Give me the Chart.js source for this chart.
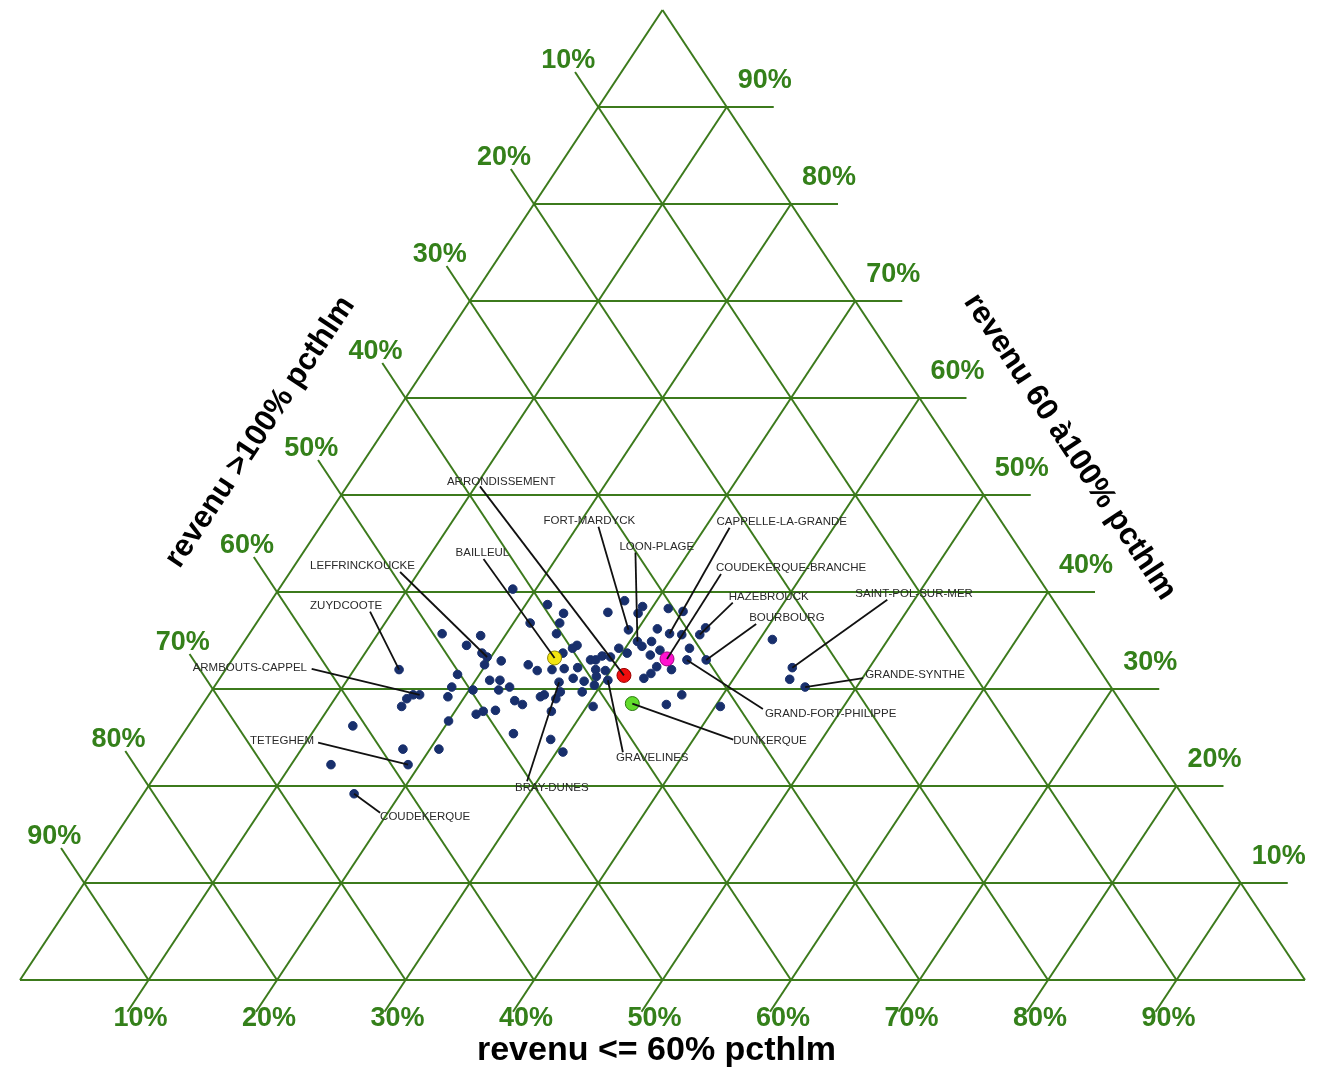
<!DOCTYPE html>
<html lang="fr">
<head>
<meta charset="utf-8">
<title>Revenus des ménages par commune – arrondissement de Dunkerque</title>
<script src="https://cdn.jsdelivr.net/npm/chart.js@4/dist/chart.umd.min.js"></script>
<style>
  html, body { margin: 0; padding: 0; background: #ffffff; }
  #wrap { width: 1320px; height: 1067px; }
  canvas { display: block; }
</style>
</head>
<body>
<div id="wrap"><canvas id="tern" width="1320" height="1067"></canvas></div>
<script>
// ---------------------------------------------------------------------------
// Data: shares (%) of households by income band, relative to the HLM ceiling
//   low  = revenu <= 60% pcthlm
//   mid  = revenu 60 à 100% pcthlm
//   high = revenu > 100% pcthlm
// ---------------------------------------------------------------------------

// Gridline / tick values (%)
const gridSteps = [10, 20, 30, 40, 50, 60, 70, 80, 90];

// Axis titles
const titleLow  = 'revenu <= 60% pcthlm';
const titleMid  = 'revenu 60 à100% pcthlm';
const titleHigh = 'revenu >100% pcthlm';

// Named communes (and the arrondissement as a whole)
const nomsCommunes = [
  'ARRONDISSEMENT', 'BAILLEUL', 'COUDEKERQUE-BRANCHE', 'DUNKERQUE',
  'FORT-MARDYCK', 'LOON-PLAGE', 'CAPPELLE-LA-GRANDE', 'HAZEBROUCK',
  'BOURBOURG', 'SAINT-POL-SUR-MER', 'GRANDE-SYNTHE', 'GRAND-FORT-PHILIPPE',
  'GRAVELINES', 'BRAY-DUNES', 'COUDEKERQUE', 'TETEGHEM',
  'ARMBOUTS-CAPPEL', 'ZUYDCOOTE', 'LEFFRINCKOUCKE'
];
const nomsLow  = [31.3, 25.0, 33.8, 33.4, 29.3, 30.6, 32.7, 35.1, 36.9, 44.0, 46.0, 35.4, 30.3, 26.6, 16.4, 19.1, 16.4, 13.5, 19.7];
const nomsMid  = [31.4, 33.2, 33.1, 28.5, 36.1, 34.9, 35.7, 35.6, 33.0, 32.2, 30.2, 33.0, 30.9, 30.7, 19.2, 22.2, 29.4, 32.0, 33.3];
const nomsHigh = [37.3, 41.8, 33.1, 38.1, 34.6, 34.5, 31.6, 29.3, 30.1, 23.8, 23.8, 31.6, 38.8, 42.7, 64.4, 58.7, 54.2, 54.5, 47.0];

// Other communes (unlabelled)
const autresLow  = [15.0, 18.1, 17.5, 19.1, 19.9, 18.3, 18.5, 18.2, 21.7, 23.4, 21.3, 23.6, 26.8, 27.5, 29.2, 29.2,
                    23.9, 31.2, 29.5, 26.1, 25.9, 25.4, 30.4, 27.9, 28.3, 28.6, 29.3, 21.0, 23.3, 24.3, 25.4, 26.3,
                    27.3, 28.8, 29.6, 33.0, 27.5, 28.5, 29.2, 29.5, 21.1, 21.9, 23.0, 31.3, 32.6, 31.5, 33.7, 35.2,
                    31.7, 32.8, 35.0, 32.3, 33.4, 34.7, 33.3, 41.0, 44.4, 18.7, 20.3, 15.9, 15.6, 15.6, 22.2, 21.8,
                    20.0, 12.8, 17.9, 20.7, 13.1, 22.3, 27.2, 25.9, 26.1, 27.2, 28.9, 24.1, 24.9, 23.1, 27.5, 30.5,
                    25.7, 28.9, 30.5, 36.8, 36.1, 40.4];
const autresMid  = [35.7, 35.5, 34.5, 33.7, 32.5, 31.5, 30.2, 40.3, 38.7, 37.8, 36.8, 36.8, 37.9, 39.1, 38.5, 37.8,
                    35.7, 34.4, 34.2, 34.5, 34.2, 33.7, 33.7, 33.0, 33.0, 33.4, 33.3, 32.9, 32.5, 31.9, 32.0, 32.1,
                    32.2, 32.0, 31.9, 31.1, 31.1, 30.8, 31.3, 30.4, 30.9, 30.9, 30.2, 38.3, 38.0, 36.2, 35.6, 36.3,
                    34.9, 34.0, 34.2, 33.5, 32.3, 32.0, 31.6, 35.1, 31.0, 29.2, 29.9, 29.4, 29.0, 28.2, 27.7, 27.4,
                    26.7, 26.2, 23.8, 23.8, 22.2, 29.9, 29.7, 29.2, 29.4, 29.0, 29.7, 28.8, 28.4, 27.8, 27.7, 28.2,
                    25.4, 24.8, 23.5, 29.4, 28.4, 28.2];
const autresHigh = [49.3, 46.4, 48.0, 47.2, 47.6, 50.2, 51.3, 41.5, 39.6, 38.8, 41.9, 39.6, 35.3, 33.4, 32.3, 33.0,
                    40.4, 34.4, 36.3, 39.4, 39.9, 40.9, 35.9, 39.1, 38.7, 38.0, 37.4, 46.1, 44.2, 43.8, 42.6, 41.6,
                    40.5, 39.2, 38.5, 35.9, 41.4, 40.7, 39.5, 40.1, 48.0, 47.2, 46.8, 30.4, 29.4, 32.3, 30.7, 28.5,
                    33.4, 33.2, 30.8, 34.2, 34.3, 33.3, 35.1, 23.9, 24.6, 52.1, 49.8, 54.7, 55.4, 56.2, 50.1, 50.8,
                    53.3, 61.0, 58.3, 55.5, 64.7, 47.8, 43.1, 44.9, 44.5, 43.8, 41.4, 47.1, 46.7, 49.1, 44.8, 41.3,
                    48.9, 46.3, 46.0, 33.8, 35.5, 31.4];

// ---------------------------------------------------------------------------
// Styles
// ---------------------------------------------------------------------------
const GRID_COLOR  = '#3c7a1c';
const TICK_COLOR  = '#34801a';
const DOT_COLOR   = '#182f6c';
const LEADER      = '#111111';
const LABEL_COLOR = '#2a2a2a';
const FONT        = "'Liberation Sans', Arial, sans-serif";

// Fill colours of the highlighted marks (others use DOT_COLOR)
const couleursSpeciales = {
  'ARRONDISSEMENT':      ['#f00d0d', '#9a0000'],
  'BAILLEUL':            ['#f4e511', '#8f8600'],
  'COUDEKERQUE-BRANCHE': ['#ff12d0', '#a0007f'],
  'DUNKERQUE':           ['#62dc2c', '#2b7a10']
};

// Callout placement, in pixels from the mark: text anchor (left, middle) and leader start
const callouts = {
  'ARRONDISSEMENT':      { text: [-177, -194], lead: [-144, -189] },
  'BAILLEUL':            { text: [-99, -105],  lead: [-71, -99] },
  'COUDEKERQUE-BRANCHE': { text: [49, -91],    lead: [54, -85] },
  'DUNKERQUE':           { text: [101, 37],    lead: [101, 36] },
  'FORT-MARDYCK':        { text: [-85, -109],  lead: [-30, -103] },
  'LOON-PLAGE':          { text: [-18, -95],   lead: [-2, -89] },
  'CAPPELLE-LA-GRANDE':  { text: [47, -112],   lead: [60, -106] },
  'HAZEBROUCK':          { text: [29, -38],    lead: [33, -32] },
  'BOURBOURG':           { text: [43, -42],    lead: [50, -36] },
  'SAINT-POL-SUR-MER':   { text: [63, -74],    lead: [95, -68] },
  'GRANDE-SYNTHE':       { text: [60, -12],    lead: [58, -9] },
  'GRAND-FORT-PHILIPPE': { text: [78, 54],     lead: [76, 49] },
  'GRAVELINES':          { text: [8, 78],      lead: [15, 72] },
  'BRAY-DUNES':          { text: [-44, 106],   lead: [-32, 99] },
  'COUDEKERQUE':         { text: [26, 23],     lead: [26, 19] },
  'TETEGHEM':            { text: [-158, -24],  lead: [-90, -22] },
  'ARMBOUTS-CAPPEL':     { text: [-227, -27],  lead: [-108, -26] },
  'ZUYDCOOTE':           { text: [-89, -64],   lead: [-29, -58] },
  'LEFFRINCKOUCKE':      { text: [-177, -91],  lead: [-87, -85] }
};

// ---------------------------------------------------------------------------
// Ternary -> cartesian (x = low + mid/2, y = mid)
// ---------------------------------------------------------------------------
function toXY(low, mid) { return { x: low + mid / 2, y: mid }; }

const autresData = autresLow.map((v, i) => toXY(v, autresMid[i]));
const nomsData   = nomsLow.map((v, i) => toXY(v, nomsMid[i]));
const nomsFill   = nomsCommunes.map(n => couleursSpeciales[n] ? couleursSpeciales[n][0] : DOT_COLOR);
const nomsBorder = nomsCommunes.map(n => couleursSpeciales[n] ? couleursSpeciales[n][1] : DOT_COLOR);
const nomsRadius = nomsCommunes.map(n => couleursSpeciales[n] ? 7 : 4.3);

// ---------------------------------------------------------------------------
// Plugins
// ---------------------------------------------------------------------------
function pix(chart, low, mid) {
  const p = toXY(low, mid);
  return [chart.scales.x.getPixelForValue(p.x), chart.scales.y.getPixelForValue(p.y)];
}
function extend(from, to, len) {
  const dx = from[0] - to[0], dy = from[1] - to[1];
  const d = Math.hypot(dx, dy);
  return [from[0] + dx / d * len, from[1] + dy / d * len];
}
function seg(ctx, a, b) {
  ctx.beginPath(); ctx.moveTo(a[0], a[1]); ctx.lineTo(b[0], b[1]); ctx.stroke();
}

const ternaryGrid = {
  id: 'ternaryGrid',
  beforeDatasetsDraw(chart) {
    const ctx = chart.ctx;
    ctx.save();
    ctx.strokeStyle = GRID_COLOR;
    ctx.lineWidth = 2;
    ctx.lineCap = 'butt';
    // outline
    const A = pix(chart, 0, 0), B = pix(chart, 100, 0), C = pix(chart, 0, 100);
    seg(ctx, A, B); seg(ctx, B, C); seg(ctx, C, A);
    gridSteps.forEach(v => {
      // constant mid: horizontal, tick beyond right edge
      const m0 = pix(chart, 0, v), m1 = pix(chart, 100 - v, v);
      seg(ctx, m0, extend(m1, m0, 47));
      // constant low: parallel to left edge, tick below base
      const l0 = pix(chart, v, 0), l1 = pix(chart, v, 100 - v);
      seg(ctx, extend(l0, l1, 38), l1);
      // constant high: parallel to right edge, tick beyond left edge
      const h0 = pix(chart, 0, 100 - v), h1 = pix(chart, 100 - v, 0);
      seg(ctx, extend(h0, h1, 42), h1);
    });
    ctx.restore();
  },
  afterDatasetsDraw(chart) {
    const ctx = chart.ctx;
    ctx.save();
    // callouts
    ctx.strokeStyle = LEADER;
    ctx.lineWidth = 1.8;
    ctx.fillStyle = LABEL_COLOR;
    ctx.font = '11.5px ' + FONT;
    ctx.textAlign = 'left';
    ctx.textBaseline = 'middle';
    nomsCommunes.forEach((n, i) => {
      const c = callouts[n];
      const p = pix(chart, nomsLow[i], nomsMid[i]);
      seg(ctx, p, [p[0] + c.lead[0], p[1] + c.lead[1]]);
      ctx.fillText(n, p[0] + c.text[0], p[1] + c.text[1]);
    });

    // tick labels
    ctx.fillStyle = TICK_COLOR;
    ctx.font = 'bold 27px ' + FONT;
    ctx.textAlign = 'center';
    ctx.textBaseline = 'middle';
    gridSteps.forEach(v => {
      const r = pix(chart, 100 - v, v);
      ctx.fillText(v + '%', r[0] + 38, r[1] - 26);
      const l = pix(chart, 0, 100 - v);
      ctx.fillText(v + '%', l[0] - 30, l[1] - 46);
      const b = pix(chart, v, 0);
      ctx.fillText(v + '%', b[0] - 8, b[1] + 39);
    });

    // axis titles
    const A = pix(chart, 0, 0), B = pix(chart, 100, 0), C = pix(chart, 0, 100);
    ctx.fillStyle = '#000000';
    ctx.font = 'bold 34px ' + FONT;
    ctx.fillText(titleLow, (A[0] + B[0]) / 2 - 6, A[1] + 71);

    ctx.font = 'bold 31px ' + FONT;
    const angL = Math.atan2(C[1] - A[1], C[0] - A[0]);
    ctx.save();
    ctx.translate((A[0] + C[0]) / 2 - 81, (A[1] + C[1]) / 2 - 63);
    ctx.rotate(angL);
    ctx.fillText(titleHigh, 0, 0);
    ctx.restore();

    const angR = Math.atan2(B[1] - C[1], B[0] - C[0]);
    ctx.save();
    ctx.translate((B[0] + C[0]) / 2 + 86, (B[1] + C[1]) / 2 - 48);
    ctx.rotate(angR);
    ctx.fillText(titleMid, 0, 0);
    ctx.restore();

    ctx.restore();
  }
};

// ---------------------------------------------------------------------------
// Chart
// ---------------------------------------------------------------------------
new Chart(document.getElementById('tern'), {
  type: 'scatter',
  data: {
    datasets: [
      {
        label: 'communes',
        data: nomsData,
        backgroundColor: nomsFill,
        borderColor: nomsBorder,
        borderWidth: 1,
        pointRadius: nomsRadius,
        order: 0
      },
      {
        label: 'autres communes',
        data: autresData,
        backgroundColor: DOT_COLOR,
        borderColor: DOT_COLOR,
        borderWidth: 1,
        pointRadius: 4.3,
        order: 1
      }
    ]
  },
  options: {
    responsive: false,
    animation: false,
    layout: { padding: { left: 20, right: 15, top: 10, bottom: 87 } },
    scales: {
      x: { type: 'linear', min: 0, max: 100, display: false },
      y: { type: 'linear', min: 0, max: 100, display: false }
    },
    plugins: {
      legend: { display: false },
      tooltip: { enabled: false }
    },
    events: []
  },
  plugins: [ternaryGrid]
});
</script>
</body>
</html>
